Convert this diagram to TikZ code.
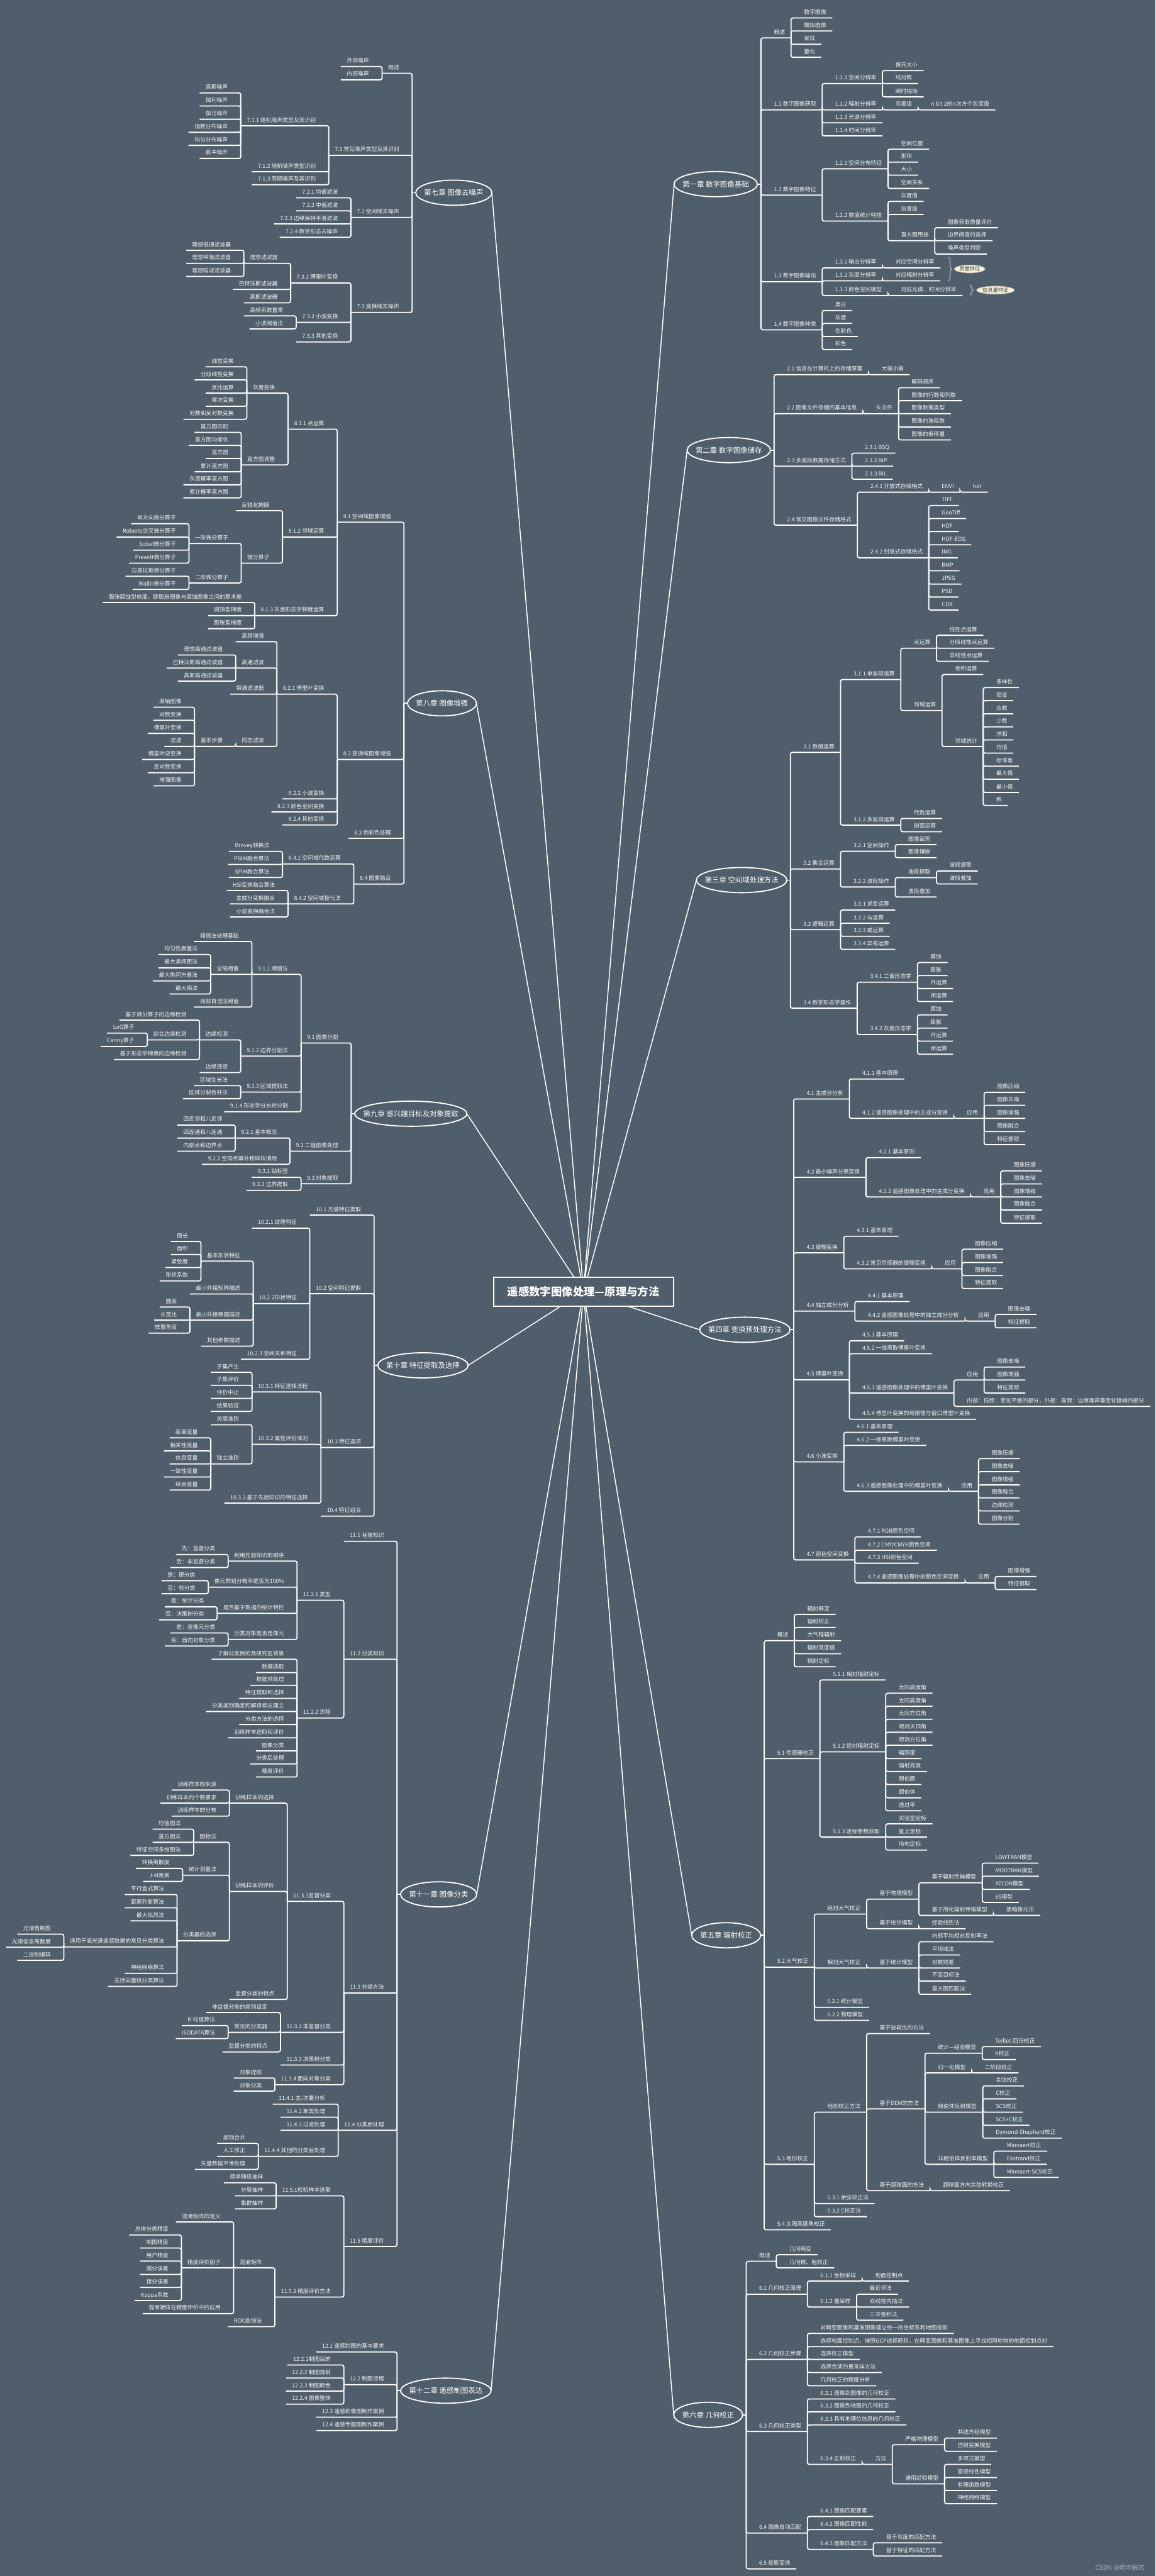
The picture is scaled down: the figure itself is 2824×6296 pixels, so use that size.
\documentclass[tikz,border=0pt]{standalone}
\usepackage{fontspec}
\setmainfont{Noto Sans CJK SC}
\usetikzlibrary{calc,positioning,shapes.geometric,decorations.pathreplacing}

\definecolor{bgc}{HTML}{4F5E6A}
\definecolor{leafc}{HTML}{F3F3F3}
\definecolor{bracec}{HTML}{A7ADB2}
\definecolor{creamc}{HTML}{F5F1DA}
\definecolor{markc}{HTML}{A9B0B6}

\newcommand{\leaffont}{\fontsize{3.85}{4.6}\selectfont}
\newcommand{\chapfont}{\fontsize{5}{6}\selectfont}
% topic growing to the right / to the left of its parent
\newcommand{\rnd}[4]{\node[rbox] (#1) at (#2.south east |- 0,#3) {#4};
  \draw[link] (#2.south east) |- (#1.south east);}
\newcommand{\lnd}[4]{\node[lbox] (#1) at (#2.south west |- 0,#3) {#4};
  \draw[link] (#2.south west) |- (#1.south west);}

\tikzset{
  topic/.style={font=\leaffont, text=leafc, inner xsep=4pt, inner ysep=1.6pt,
    text height=3.1pt, text depth=0.8pt},
  rbox/.style={topic, anchor=south west, xshift=0.17cm},
  lbox/.style={topic, anchor=south east, xshift=-0.17cm},
  link/.style={draw=white, line width=0.78pt, rounded corners=1.3pt},
  chap/.style={font=\chapfont, text=white, inner xsep=0.2cm, inner ysep=0pt, minimum height=0.6cm},
  ring/.style={draw=white, line width=0.8pt},
  spoke/.style={draw=white, line width=0.65pt},
  hub/.style={inner sep=0pt, minimum size=0pt},
  rootbox/.style={draw=white, line width=0.9pt, fill=bgc, text=white, minimum width=4.39cm,
    minimum height=0.71cm, font=\fontsize{7.6}{9}\selectfont\bfseries},
  bubble/.style={ellipse, fill=creamc, draw=creamc!75!black, line width=0.3pt, text=black!75,
    inner sep=0.3pt, font=\fontsize{3.6}{4}\selectfont},
  brc/.style={draw=bracec, line width=0.6pt, decorate, decoration={brace, amplitude=0.08cm}},
  rcrop/.style={shift={(0,#1+13.5)}, y=-0.00676cm},
  scrop/.style={shift={(0,#1+13.5)}, y=-0.00699cm},
  lcrop/.style={shift={(0,#1+13.4)}, y=-0.006378cm}
}

\begin{document}
\begin{tikzpicture}[x=0.01cm, y=-0.01cm]
\fill[bgc] (0,0) rectangle (2824,6296);
\useasboundingbox (0,0) rectangle (2824,6296);

% chapters round the title
\coordinate (o) at (1426,3157);
\node[chap, anchor=east] (ch1) at (1851,450) {第一章 数字图像基础};
\node[chap, anchor=east] (ch2) at (1883,1100) {第二章 数字图像储存};
\node[chap, anchor=east] (ch3) at (1923,2151) {第三章 空间域处理方法};
\node[chap, anchor=east] (ch4) at (1931,3250) {第四章 变换预处理方法};
\node[chap, anchor=east] (ch5) at (1859,4730) {第五章 辐射校正};
\node[chap, anchor=east] (ch6) at (1815,5902) {第六章 几何校正};
\node[chap, anchor=west] (ch7) at (1016,471) {第七章 图像去噪声};
\node[chap, anchor=west] (ch8) at (996,1719) {第八章 图像增强};
\node[chap, anchor=west] (ch9) at (867,2722) {第九章 感兴趣目标及对象提取};
\node[chap, anchor=west] (ch10) at (923,3337) {第十章 特征提取及选择};
\node[chap, anchor=west] (ch11) at (979,4630) {第十一章 图像分类};
\node[chap, anchor=west] (ch12) at (979,5843) {第十二章 遥感制图表达};
\foreach \c in {1,...,12}
  \draw[ring] let \p1=(ch\c.north east), \p2=(ch\c.south west) in
    (ch\c.center) ellipse [x radius={0.5*(\x1-\x2)}, y radius={0.5*(\y1-\y2)}];
\foreach \c in {1,...,6} \draw[spoke] (o) -- (ch\c.west);
\foreach \c in {7,...,12} \draw[spoke] (o) -- (ch\c.east);
\node[rootbox] (root) at (o) {遥感数字图像处理—原理与方法};
\foreach \c in {1,...,6}{
  \node[hub] (hub\c) at ([xshift=0.08cm]ch\c.east) {};
  \draw[link] (ch\c.east) -- (hub\c);}
\foreach \c in {7,...,12}{
  \node[hub] (hub\c) at ([xshift=-0.08cm]ch\c.west) {};
  \draw[link] (ch\c.west) -- (hub\c);}

% ---------------- chapter 1
\begin{scope}[rcrop=0]
\rnd{t1o}{hub1}{117}{概述}
\rnd{t1oa}{t1o}{45}{数字图像}
\rnd{t1ob}{t1o}{92}{模拟图像}
\rnd{t1oc}{t1o}{140}{采样}
\rnd{t1od}{t1o}{187}{量化}
\rnd{t11}{hub1}{377}{1.1 数字图像获取}
\rnd{t111}{t11}{282}{1.1.1 空间分辨率}
\rnd{t111a}{t111}{235}{像元大小}
\rnd{t111b}{t111}{282}{线对数}
\rnd{t111c}{t111}{330}{瞬时视场}
\rnd{t112}{t11}{377}{1.1.2 辐射分辨率}
\rnd{t112a}{t112}{377}{灰度级}
\rnd{t112b}{t112a}{377}{n bit 2的n次方个灰度级}
\rnd{t113}{t11}{424}{1.1.3 光谱分辨率}
\rnd{t114}{t11}{471}{1.1.4 时间分辨率}
\rnd{t12}{hub1}{685}{1.2 数字图像特征}
\rnd{t121}{t12}{590}{1.2.1 空间分布特征}
\rnd{t121a}{t121}{519}{空间位置}
\rnd{t121b}{t121}{566}{形状}
\rnd{t121c}{t121}{613}{大小}
\rnd{t121d}{t121}{661}{空间关系}
\rnd{t122}{t12}{779}{1.2.2 数值统计特性}
\rnd{t122a}{t122}{708}{灰度值}
\rnd{t122b}{t122}{755}{灰度级}
\rnd{t122c}{t122}{850}{直方图用途}
\rnd{t122c1}{t122c}{803}{图像获取质量评价}
\rnd{t122c2}{t122c}{850}{边界阈值的选择}
\rnd{t122c3}{t122c}{898}{噪声类型判断}
\rnd{t13}{hub1}{998}{1.3 数字图像输出}
\rnd{t131}{t13}{948}{1.3.1 输出分辨率}
\rnd{t131a}{t131}{948}{对应空间分辨率}
\rnd{t132}{t13}{995}{1.3.2 灰度分辨率}
\rnd{t132a}{t132}{995}{对应辐射分辨率}
\rnd{t133}{t13}{1048}{1.3.3 颜色空间模型}
\rnd{t133a}{t133}{1048}{对应光谱、时间分辨率}
\rnd{t14}{hub1}{1172}{1.4 数字图像种类}
\rnd{t14a}{t14}{1102}{黑白}
\rnd{t14b}{t14}{1149}{灰度}
\rnd{t14c}{t14}{1196}{伪彩色}
\rnd{t14d}{t14}{1243}{彩色}
% chapter 2, upper part
\rnd{t21}{hub2}{1334}{2.1 信息在计算机上的存储原理}
\rnd{t21a}{t21}{1334}{大端小端}
\rnd{t22}{hub2}{1475}{2.2 图像文件存储的基本信息}
\rnd{t22a}{t22}{1475}{头文件}
\rnd{t22a1}{t22a}{1381}{解码顺序}
\rnd{t22a2}{t22a}{1428}{图像的行数和列数}
\rnd{t22a3}{t22a}{1475}{图像数据类型}
\rnd{t22a4}{t22a}{1523}{图像的波段数}
\rnd{t22a5}{t22a}{1570}{图像的偏移量}
\end{scope}
% quality / information callouts
\draw[brc] ([xshift=0.2cm]t131a.north east) -- ([xshift=0.2cm]t132a.south east);
\coordinate (qb) at ($([xshift=0.28cm]t131a.north east)!0.5!([xshift=0.28cm]t132a.south east)$);
\node[bubble, right=0.06cm of qb] (qual) {质量特征};
\draw[brc] ([xshift=0.18cm]t133a.north east) -- ([xshift=0.18cm]t133a.south east);
\coordinate (ib) at ($([xshift=0.26cm]t133a.north east)!0.5!([xshift=0.26cm]t133a.south east)$);
\node[bubble, right=0.08cm of ib] (info) {信息量特征};

% ---------------- chapter 2 / 3
\begin{scope}[rcrop=1040]
\rnd{t23}{hub2}{127}{2.3 多波段数据存储方式}
\rnd{t231}{t23}{80}{2.3.1 BSQ}
\rnd{t232}{t23}{127}{2.3.2 BIP}
\rnd{t233}{t23}{174}{2.3.3 BIL}
\rnd{t24}{hub2}{340}{2.4 常见图像文件存储格式}
\rnd{t241}{t24}{221}{2.4.1 开放式存储格式}
\rnd{t241a}{t241}{221}{ENVI}
\rnd{t241b}{t241a}{221}{hdr}
\rnd{t242}{t24}{458}{2.4.2 封装式存储格式}
\foreach \y/\s [count=\i] in {269/TIFF,316/GeoTiff,363/HDF,411/HDF-EOS,458/IMG,505/BMP,553/JPEG,600/PSD,647/CDR}{\rnd{t242\i}{t242}{\y}{\s}}
\rnd{t31}{hub3}{1161}{3.1 数值运算}
\rnd{t311}{t31}{898}{3.1.1 单波段运算}
\rnd{t311a}{t311}{785}{点运算}
\rnd{t311a1}{t311a}{738}{线性点运算}
\rnd{t311a2}{t311a}{785}{分段线性点运算}
\rnd{t311a3}{t311a}{832}{非线性点运算}
\rnd{t311b}{t311}{1010}{邻域运算}
\rnd{t311b1}{t311b}{880}{卷积运算}
\rnd{t311b2}{t311b}{1140}{邻域统计}
\foreach \y/\s [count=\i] in {927/多样性,974/密度,1022/众数,1069/少数,1116/求和,1164/均值,1211/标准差,1258/最大值,1306/最小值,1353/秩}{\rnd{t311c\i}{t311b2}{\y}{\s}}
\rnd{t312}{t31}{1424}{3.1.2 多波段运算}
\rnd{t312a}{t312}{1400}{代数运算}
\rnd{t312b}{t312}{1448}{剖面运算}
\end{scope}

\begin{scope}[rcrop=2080]
\rnd{t32}{hub3}{45}{3.2 集合运算}
\rnd{t321}{t32}{-19}{3.2.1 空间操作}
\rnd{t321a}{t321}{-43}{图像裁剪}
\rnd{t321b}{t321}{4}{图像镶嵌}
\rnd{t322}{t32}{110}{3.2.2 波段操作}
\rnd{t322a}{t322}{76}{波段提取}
\rnd{t322a1}{t322a}{52}{波段提取}
\rnd{t322a2}{t322a}{99}{波段叠加}
\rnd{t322b}{t322}{146}{波段叠加}
\rnd{t33}{hub3}{264}{3.3 逻辑运算}
\rnd{t331}{t33}{193}{3.3.1 求反运算}
\rnd{t332}{t33}{241}{3.3.2 与运算}
\rnd{t333}{t33}{288}{3.3.3 或运算}
\rnd{t334}{t33}{335}{3.3.4 异或运算}
\rnd{t34}{hub3}{548}{3.4 数学形态学操作}
\rnd{t341}{t34}{454}{3.4.1 二值形态学}
\foreach \y/\s [count=\i] in {383/腐蚀,430/膨胀,477/开运算,524/闭运算}{\rnd{t341\i}{t341}{\y}{\s}}
\rnd{t342}{t34}{643}{3.4.2 灰度形态学}
\foreach \y/\s [count=\i] in {572/腐蚀,620/膨胀,667/开运算,714/闭运算}{\rnd{t342\i}{t342}{\y}{\s}}
% chapter 4
\rnd{t41}{hub4}{876}{4.1 主成分分析}
\rnd{t411}{t41}{804}{4.1.1 基本原理}
\rnd{t412}{t41}{946}{4.1.2 遥感图像处理中的主成分变换}
\rnd{t412a}{t412}{946}{应用}
\foreach \y/\s [count=\i] in {852/图像压缩,899/图像去噪,946/图像增强,994/图像融合,1041/特征提取}{\rnd{t412a\i}{t412a}{\y}{\s}}
\rnd{t42}{hub4}{1159}{4.2 最小噪声分离变换}
\rnd{t421}{t42}{1088}{4.2.1 基本原则}
\rnd{t422}{t42}{1230}{4.2.2 遥感图像处理中的主成分变换}
\rnd{t422a}{t422}{1230}{应用}
\foreach \y/\s [count=\i] in {1136/图像压缩,1183/图像去噪,1230/图像增强,1277/图像融合,1325/特征提取}{\rnd{t422a\i}{t422a}{\y}{\s}}
\rnd{t43}{hub4}{1432}{4.3 缨帽变换}
\rnd{t431}{t43}{1372}{4.3.1 基本原理}
\rnd{t432}{t43}{1490}{4.3.2 常见传感器的缨帽变换}
\rnd{t432a}{t432}{1490}{应用}
\foreach \y/\s [count=\i] in {1419/图像压缩,1467/图像增强,1514/图像融合,1561/特征提取}{\rnd{t432a\i}{t432a}{\y}{\s}}
\end{scope}

\begin{scope}[rcrop=3120]
\rnd{t44}{hub4}{105}{4.4 独立成分分析}
\rnd{t441}{t44}{70}{4.4.1 基本原理}
\rnd{t442}{t44}{141}{4.4.2 遥感图像处理中的独立成分分析}
\rnd{t442a}{t442}{141}{应用}
\rnd{t442a1}{t442a}{117}{图像去噪}
\rnd{t442a2}{t442a}{165}{特征提取}
\rnd{t45}{hub4}{353}{4.5 傅里叶变换}
\rnd{t451}{t45}{212}{4.5.1 基本原理}
\rnd{t452}{t45}{259}{4.5.2 一维离散傅里叶变换}
\rnd{t453}{t45}{401}{4.5.3 遥感图像处理中的傅里叶变换}
\rnd{t453a}{t453}{354}{应用}
\rnd{t453a1}{t453a}{307}{图像去噪}
\rnd{t453a2}{t453a}{354}{图像增强}
\rnd{t453a3}{t453a}{401}{特征提取}
\rnd{t453b}{t453}{449}{内部：低频：变化平缓的部分，外部：高频：边缘噪声等变化陡峭的部分}
\rnd{t454}{t45}{496}{4.5.4 傅里叶变换的局限性与窗口傅里叶变换}
\rnd{t46}{hub4}{650}{4.6 小波变换}
\rnd{t461}{t46}{543}{4.6.1 基本原理}
\rnd{t462}{t46}{590}{4.6.2 一维离散傅里叶变换}
\rnd{t463}{t46}{756}{4.6.3 遥感图像处理中的傅里叶变换}
\rnd{t463a}{t463}{756}{应用}
\foreach \y/\s [count=\i] in {638/图像压缩,685/图像去噪,733/图像增强,780/图像融合,827/边缘检测,875/图像分割}{\rnd{t463a\i}{t463a}{\y}{\s}}
\rnd{t47}{hub4}{1004}{4.7 颜色空间变换}
\rnd{t471}{t47}{921}{4.7.1 RGB颜色空间}
\rnd{t472}{t47}{969}{4.7.2 CMY/CMYK颜色空间}
\rnd{t473}{t47}{1016}{4.7.3 HSI颜色空间}
\rnd{t474}{t47}{1087}{4.7.4 遥感图像处理中的颜色空间变换}
\rnd{t474a}{t474}{1087}{应用}
\rnd{t474a1}{t474a}{1064}{图像增强}
\rnd{t474a2}{t474a}{1111}{特征提取}
% chapter 5
\rnd{t5o}{hub5}{1296}{概述}
\foreach \y/\s [count=\i] in {1201/辐射畸变,1248/辐射校正,1296/大气程辐射,1343/辐射亮度值,1390/辐射定标}{\rnd{t5o\i}{t5o}{\y}{\s}}
\end{scope}

\begin{scope}[rcrop=4160]
\rnd{t51}{hub5}{184}{5.1 传感器校正}
\rnd{t511}{t51}{-100}{5.1.1 相对辐射定标}
\rnd{t512}{t51}{160}{5.1.2 绝对辐射定标}
\foreach \y/\s [count=\i] in {-52/太阳高度角,-5/太阳高度角,42/太阳方位角,89/观测天顶角,136/观测方位角,184/辐照度,231/辐射亮度,278/朗伯面,326/朗伯体,373/透过率}{\rnd{t512\i}{t512}{\y}{\s}}
\rnd{t513}{t51}{468}{5.1.3 定标参数获取}
\foreach \y/\s [count=\i] in {420/实验室定标,468/星上定标,515/场地定标}{\rnd{t513\i}{t513}{\y}{\s}}
\rnd{t52}{hub5}{938}{5.2 大气校正}
\rnd{t52a}{t52}{746}{绝对大气校正}
\rnd{t52a1}{t52a}{692}{基于物理模型}
\rnd{t52a1a}{t52a1}{633}{基于辐射传输模型}
\foreach \y/\s [count=\i] in {562/LOWTRAN模型,609/MODTRAN模型,657/ATCOR模型,704/6S模型}{\rnd{t52a1a\i}{t52a1a}{\y}{\s}}
\rnd{t52a1b}{t52a1}{751}{基于简化辐射传输模型}
\rnd{t52a1b1}{t52a1b}{751}{黑暗像元法}
\rnd{t52a2}{t52a}{799}{基于统计模型}
\rnd{t52a2a}{t52a2}{799}{经验线性法}
\rnd{t52b}{t52}{941}{相对大气校正}
\rnd{t52b1}{t52b}{941}{基于统计模型}
\foreach \y/\s [count=\i] in {846/内部平均相对反射率法,894/平场域法,941/对数残差,988/不变目标法,1036/直方图匹配法}{\rnd{t52b1\i}{t52b1}{\y}{\s}}
\rnd{t521}{t52}{1083}{5.2.1 统计模型}
\rnd{t522}{t52}{1130}{5.2.2 物理模型}
\end{scope}

\begin{scope}[scrop=5200]
\rnd{t53}{hub5}{109}{5.3 地形校正}
\end{scope}

\begin{scope}[rcrop=4160]
\rnd{t53a}{t53}{1462}{地形校正方法}
\rnd{t53a1}{t53a}{1178}{基于波段比的方法}
\rnd{t53a2}{t53a}{1450}{基于DEM的方法}
\rnd{t53b1}{t53a2}{1249}{统计—经验模型}
\rnd{t53b1a}{t53b1}{1225}{Teillet-回归校正}
\rnd{t53b1b}{t53b1}{1272}{b校正}
\rnd{t53b2}{t53a2}{1320}{归一化模型}
\rnd{t53b2a}{t53b2}{1320}{二阶段校正}
\rnd{t53b3}{t53a2}{1462}{朗伯体反射模型}
\foreach \y/\s [count=\i] in {1367/余弦校正,1414/C校正,1462/SCS校正,1509/SCS+C校正,1556/Dymond-Shepherd校正}{\rnd{t53b3\i}{t53b3}{\y}{\s}}
\end{scope}

\begin{scope}[scrop=5200]
\rnd{t53b4}{t53a2}{109}{非朗伯体反射率模型}
\foreach \y/\s [count=\i] in {63/Minnaert校正,109/Ekstrand校正,155/Minnaert-SCS校正}{\rnd{t53b4\i}{t53b4}{\y}{\s}}
\rnd{t53a3}{t53a}{201}{基于超球面的方法}
\rnd{t53a3a}{t53a3}{201}{超球面方向余弦转换校正}
\rnd{t531}{t53}{246}{5.3.1 余弦校正法}
\rnd{t532}{t53}{292}{5.3.2 C校正法}
\rnd{t54}{hub5}{338}{5.4 太阳高度角校正}
% chapter 6
\rnd{t6o}{hub6}{448}{概述}
\rnd{t6oa}{t6o}{425}{几何畸变}
\rnd{t6ob}{t6o}{471}{几何精、粗校正}
\rnd{t61}{hub6}{563}{6.1 几何校正原理}
\rnd{t611}{t61}{517}{6.1.1 坐标采样}
\rnd{t611a}{t611}{517}{地面控制点}
\rnd{t612}{t61}{608}{6.1.2 重采样}
\foreach \y/\s [count=\i] in {563/最近邻法,608/双线性内插法,654/三次卷积法}{\rnd{t612\i}{t612}{\y}{\s}}
\rnd{t62}{hub6}{791}{6.2 几何校正步骤}
\rnd{t62a}{t62}{700}{对畸变图像和基准图像建立统一的坐标系和地图投影}
\rnd{t62b}{t62}{746}{选择地面控制点，按照GCP选择原则，在畸变图像和基准图像上寻找相同地物的地面控制点对}
\rnd{t62c}{t62}{791}{选择校正模型}
\rnd{t62d}{t62}{837}{选择合适的重采样方法}
\rnd{t62e}{t62}{883}{几何校正的精度分析}
\rnd{t63}{hub6}{1043}{6.3 几何校正类型}
\rnd{t631}{t63}{929}{6.3.1 图像到图像的几何校正}
\rnd{t632}{t63}{974}{6.3.2 图像到地图的几何校正}
\rnd{t633}{t63}{1020}{6.3.3 具有地理位信息的几何校正}
\rnd{t634}{t63}{1158}{6.3.4 正射校正}
\rnd{t634a}{t634}{1158}{方法}
\rnd{t634b}{t634a}{1089}{严格物理模型}
\rnd{t634b1}{t634b}{1066}{共线方程模型}
\rnd{t634b2}{t634b}{1112}{仿射变换模型}
\rnd{t634c}{t634a}{1226}{通用经验模型}
\foreach \y/\s [count=\i] in {1158/多项式模型,1204/直接线性模型,1249/有理函数模型,1295/神经网络模型}{\rnd{t634c\i}{t634c}{\y}{\s}}
\rnd{t64}{hub6}{1398}{6.4 图像自动匹配}
\rnd{t641}{t64}{1340}{6.4.1 图像匹配要素}
\rnd{t642}{t64}{1386}{6.4.2 图像匹配性能}
\rnd{t643}{t64}{1455}{6.4.3 图象匹配方法}
\rnd{t643a}{t643}{1432}{基于灰度的匹配方法}
\rnd{t643b}{t643}{1478}{基于特征的匹配方法}
\rnd{t65}{hub6}{1523}{6.5 投影变换}
\end{scope}

% ---------------- chapter 7
\begin{scope}[lcrop=100]
\lnd{t7o}{hub7}{103}{概述}
\lnd{t7oa}{t7o}{77}{外部噪声}
\lnd{t7ob}{t7o}{128}{内部噪声}
\lnd{t71}{hub7}{417}{7.1 常见噪声类型及其识别}
\lnd{t711}{t71}{304}{7.1.1 随机噪声类型及其识别}
\foreach \y/\s [count=\i] in {178/高斯噪声,228/瑞利噪声,279/伽马噪声,329/指数分布噪声,379/均匀分布噪声,429/脉冲噪声}{\lnd{t711\i}{t711}{\y}{\s}}
\lnd{t712}{t71}{480}{7.1.2 随机噪声类型识别}
\lnd{t713}{t71}{530}{7.1.3 周期噪声及其识别}
\lnd{t72}{hub7}{655}{7.2 空间域去噪声}
\lnd{t721}{t72}{580}{7.2.1 均值滤波}
\lnd{t722}{t72}{630}{7.2.2 中值滤波}
\lnd{t723}{t72}{680}{7.2.3 边缘保持平滑滤波}
\lnd{t724}{t72}{731}{7.2.4 数学形态去噪声}
\lnd{t73}{hub7}{1019}{7.3 变换域去噪声}
\lnd{t731}{t73}{906}{7.3.1 傅里叶变换}
\lnd{t731a}{t731}{831}{理想滤波器}
\lnd{t731a1}{t731a}{781}{理想低通滤波器}
\lnd{t731a2}{t731a}{831}{理想带阻滤波器}
\lnd{t731a3}{t731a}{881}{理想陷波滤波器}
\lnd{t731b}{t731}{931}{巴特沃斯滤波器}
\lnd{t731c}{t731}{982}{高斯滤波器}
\lnd{t732}{t73}{1057}{7.3.2 小波变换}
\lnd{t732a}{t732}{1032}{高频系数置零}
\lnd{t732b}{t732}{1082}{小波阈值法}
\lnd{t733}{t73}{1132}{7.3.3 其他变换}
\end{scope}

% ---------------- chapter 8
\begin{scope}[lcrop=1100]
\lnd{t81}{hub8}{255}{8.1 空间域图像增强}
\end{scope}
\begin{scope}[lcrop=100]
\lnd{t811}{t81}{1466}{8.1.1 点运算}
\lnd{t811a}{t811}{1328}{灰度变换}
\foreach \y/\s [count=\i] in {1227/线性变换,1277/分段线性变换,1328/反比运算,1378/幂次变换,1428/对数和反对数变换}{\lnd{t811a\i}{t811a}{\y}{\s}}
\lnd{t811b}{t811}{1603}{直方图调整}
\foreach \y/\s [count=\i] in {1478/直方图匹配,1528/直方图均衡化,1578/直方图,1629/累计直方图,1679/灰度概率直方图,1729/累计概率直方图}{\lnd{t811b\i}{t811b}{\y}{\s}}
\end{scope}
\begin{scope}[lcrop=1100]
\lnd{t812}{t81}{312}{8.1.2 邻域运算}
\lnd{t812a}{t812}{211}{反锐化掩膜}
\lnd{t812b}{t812}{412}{微分算子}
\lnd{t812b1}{t812b}{337}{一阶微分算子}
\foreach \y/\s [count=\i] in {261/单方向微分算子,312/Roberts交叉微分算子,362/Sobel微分算子,412/Prewitt微分算子}{\lnd{t812c\i}{t812b1}{\y}{\s}}
\lnd{t812b2}{t812b}{488}{二阶微分算子}
\lnd{t812d1}{t812b2}{462}{拉普拉斯微分算子}
\lnd{t812d2}{t812b2}{513}{Wallis微分算子}
\lnd{t813}{t81}{613}{8.1.3 灰度形态学梯度运算}
\lnd{t813a}{t813}{563}{膨胀腐蚀型梯度，即膨胀图像与腐蚀图像之间的算术差}
\lnd{t813b}{t813}{613}{腐蚀型梯度}
\lnd{t813c}{t813}{663}{膨胀型梯度}
\lnd{t82}{hub8}{1164}{8.2 变换域图像增强}
\lnd{t821}{t82}{914}{8.2.1 傅里叶变换}
\lnd{t821a}{t821}{713}{高频增强}
\lnd{t821b}{t821}{814}{高通滤波}
\lnd{t821b1}{t821b}{764}{理想高通滤波器}
\lnd{t821b2}{t821b}{814}{巴特沃斯高通滤波器}
\lnd{t821b3}{t821b}{864}{高斯高通滤波器}
\lnd{t821c}{t821}{914}{带通滤波器}
\lnd{t821d}{t821}{1114}{同态滤波}
\lnd{t821e}{t821d}{1114}{基本步骤}
\foreach \y/\s [count=\i] in {964/原始图像,1014/对数变换,1064/傅里叶变换,1114/滤波,1164/傅里叶逆变换,1215/反对数变换,1265/增强图像}{\lnd{t821e\i}{t821e}{\y}{\s}}
\lnd{t822}{t82}{1315}{8.2.2 小波变换}
\lnd{t823}{t82}{1365}{8.2.3 颜色空间变换}
\lnd{t824}{t82}{1415}{8.2.4 其他变换}
\lnd{t83}{hub8}{1466}{8.3 伪彩色处理}
\lnd{t84}{hub8}{1641}{8.4 图像融合}
\lnd{t841}{t84}{1564}{8.4.1 空间域代数运算}
\lnd{t841a}{t841}{1516}{Brovey转换法}
\lnd{t841b}{t841}{1566}{PBIM融合算法}
\lnd{t841c}{t841}{1616}{SFIM融合算法}
\lnd{t842}{t84}{1717}{8.4.2 空间域替代法}
\lnd{t842a}{t842}{1666}{HSI变换融合算法}
\lnd{t842b}{t842}{1717}{主成分变换融合}
\lnd{t842c}{t842}{1767}{小波变换融合法}
\end{scope}

% ---------------- chapter 9
\begin{scope}[lcrop=2100]
\lnd{t91}{hub9}{683}{9.1 图像分割}
\lnd{t911}{t91}{420}{9.1.1 阈值法}
\lnd{t911a}{t911}{294}{阈值法处理基础}
\lnd{t911b}{t911}{420}{全局阈值}
\foreach \y/\s [count=\i] in {344/均匀性度量法,395/最大类间距法,445/最大类间方差法,495/最大熵法}{\lnd{t911b\i}{t911b}{\y}{\s}}
\lnd{t911c}{t911}{545}{局部自适应阈值}
\lnd{t912}{t91}{733}{9.1.2 边界分割法}
\lnd{t912a}{t912}{671}{边缘检测}
\lnd{t912a1}{t912a}{595}{基于微分算子的边缘检测}
\lnd{t912a2}{t912a}{671}{综合边缘检测}
\lnd{t912a2a}{t912a2}{645}{LoG算子}
\lnd{t912a2b}{t912a2}{696}{Canny算子}
\lnd{t912a3}{t912a}{746}{基于形态学梯度的边缘检测}
\lnd{t912b}{t912}{796}{边缘连接}
\lnd{t913}{t91}{871}{9.1.3 区域提取法}
\lnd{t913a}{t913}{846}{区域生长法}
\lnd{t913b}{t913}{896}{区域分裂合并法}
\lnd{t914}{t91}{946}{9.1.4 形态学分水岭分割}
\lnd{t92}{hub9}{1097}{9.2 二值图像处理}
\lnd{t921}{t92}{1047}{9.2.1 基本概念}
\lnd{t921a}{t921}{997}{四近邻和八近邻}
\lnd{t921b}{t921}{1047}{四连通和八连通}
\lnd{t921c}{t921}{1097}{内部点和边界点}
\lnd{t922}{t92}{1147}{9.2.2 空洞点填补和碎块消除}
\lnd{t93}{hub9}{1222}{9.3 对象提取}
\lnd{t931}{t93}{1197}{9.3.1 贴标签}
\lnd{t932}{t93}{1247}{9.3.2 边界提取}
\end{scope}

% ---------------- chapter 10 / 11
\begin{scope}[lcrop=3100]
\lnd{u1}{hub10}{-225}{10.1 光谱特征提取}
\lnd{u2}{hub10}{76}{10.2 空间特征提取}
\lnd{u21}{u2}{-175}{10.2.1 纹理特征}
\lnd{u22}{u2}{114}{10.2.2形状特征}
\lnd{u22a}{u22}{-49}{基本形状特征}
\foreach \y/\s [count=\i] in {-124/周长,-74/面积,-24/紧致度,27/形状系数}{\lnd{u22a\i}{u22a}{\y}{\s}}
\lnd{u22b}{u22}{77}{最小外接矩阵描述}
\lnd{u22c}{u22}{177}{最小外接椭圆描述}
\foreach \y/\s [count=\i] in {127/圆度,177/长宽比,227/放置角度}{\lnd{u22c\i}{u22c}{\y}{\s}}
\lnd{u22d}{u22}{277}{其他参数描述}
\lnd{u23}{u2}{327}{10.2.3 空间关系特征}
\lnd{u3}{hub10}{665}{10.3 特征选项}
\lnd{u31}{u3}{452}{10.3.1 特征选择流程}
\foreach \y/\s [count=\i] in {377/子集产生,427/子集评价,477/评价中止,527/结果验证}{\lnd{u31\i}{u31}{\y}{\s}}
\lnd{u32}{u3}{653}{10.3.2 属性评价准则}
\lnd{u32a}{u32}{578}{关联准则}
\lnd{u32b}{u32}{728}{独立准则}
\foreach \y/\s [count=\i] in {628/距离度量,678/相关性度量,728/信息度量,778/一致性度量,828/综合度量}{\lnd{u32b\i}{u32b}{\y}{\s}}
\lnd{u33}{u3}{878}{10.3.3 基于先验知识的特征选择}
\lnd{u4}{hub10}{928}{10.4 特征组合}
% chapter 11
\lnd{v1}{hub11}{1024}{11.1 背景知识}
\lnd{v2}{hub11}{1476}{11.2 分类知识}
\lnd{v21}{v2}{1250}{11.2.1 类型}
\lnd{v21a}{v21}{1100}{利用先验知识的顺序}
\lnd{v21a1}{v21a}{1075}{先：监督分类}
\lnd{v21a2}{v21a}{1125}{后：非监督分类}
\lnd{v21b}{v21}{1200}{像元的划分概率是否为100\%}
\lnd{v21b1}{v21b}{1175}{是：硬分类}
\lnd{v21b2}{v21b}{1225}{否：软分类}
\lnd{v21c}{v21}{1300}{是否基于数据的统计特性}
\lnd{v21c1}{v21c}{1275}{是：统计分类}
\lnd{v21c2}{v21c}{1325}{否：决策树分类}
\lnd{v21d}{v21}{1400}{分类对象是否是像元}
\lnd{v21d1}{v21d}{1375}{是：逐像元分类}
\lnd{v21d2}{v21d}{1425}{否：面向对象分类}
\lnd{v22}{v2}{1701}{11.2.2 流程}
\foreach \y/\s [count=\i] in {1476/了解分类目的及研究区背景,1527/数据选取,1576/数据预处理,1626/特征提取和选择,1676/分类类别确定和解译标志建立,1726/分类方法的选择,1777/训练样本选取和评价,1827/图像分类,1877/分类后处理,1927/精度评价}{\lnd{v22\i}{v22}{\y}{\s}}
\end{scope}

\begin{scope}[lcrop=4100]
\lnd{v3}{hub11}{1187}{11.3 分类方法}
\lnd{v31}{v3}{836}{11.3.1监督分类}
\lnd{v31a}{v31}{460}{训练样本的选择}
\lnd{v31a1}{v31a}{410}{训练样本的来源}
\lnd{v31a2}{v31a}{460}{训练样本的个数要求}
\lnd{v31a3}{v31a}{510}{训练样本的分布}
\lnd{v31b}{v31}{798}{训练样本的评价}
\lnd{v31b1}{v31b}{610}{图标法}
\lnd{v31b1a}{v31b1}{560}{均值图法}
\lnd{v31b1b}{v31b1}{610}{直方图法}
\lnd{v31b1c}{v31b1}{660}{特征空间多维图法}
\lnd{v31b2}{v31b}{736}{统计测量法}
\lnd{v31b2a}{v31b2}{710}{转换离散度}
\lnd{v31b2b}{v31b2}{760}{J-M距离}
\lnd{v31b3}{v31b}{987}{分类器的选择}
\lnd{v31b3a}{v31b3}{810}{平行盒式算法}
\lnd{v31b3b}{v31b3}{861}{距离判断算法}
\lnd{v31b3c}{v31b3}{911}{最大似然法}
\lnd{v31b3d}{v31b3}{1011}{适用于高光谱遥感数据的常见分类算法}
\lnd{v31b3d1}{v31b3d}{962}{光谱角制图}
\lnd{v31b3d2}{v31b3d}{1012}{光谱信息离散度}
\lnd{v31b3d3}{v31b3d}{1062}{二进制编码}
\lnd{v31b3e}{v31b3}{1112}{神经网络算法}
\lnd{v31b3f}{v31b3}{1162}{支持向量机分类算法}
\lnd{v31c}{v31}{1212}{监督分类的特点}
\lnd{v32}{v3}{1338}{11.3.2 非监督分类}
\lnd{v32a}{v32}{1262}{非监督分类的类别设定}
\lnd{v32b}{v32}{1338}{常见的分类器}
\lnd{v32b1}{v32b}{1312}{K-均值算法}
\lnd{v32b2}{v32b}{1362}{ISODATA算法}
\lnd{v32c}{v32}{1413}{监督分类的特点}
\lnd{v33}{v3}{1463}{11.3.3 决策树分类}
\lnd{v34}{v3}{1538}{11.3.4 面向对象分类}
\lnd{v34a}{v34}{1513}{对象提取}
\lnd{v34b}{v34}{1563}{对象分类}
\end{scope}

\begin{scope}[lcrop=5100]
\lnd{v4}{hub11}{146}{11.4 分类后处理}
\lnd{v41}{v4}{46}{11.4.1 主/次要分析}
\lnd{v42}{v4}{96}{11.4.2 聚类处理}
\lnd{v43}{v4}{146}{11.4.3 过滤处理}
\lnd{v44}{v4}{246}{11.4.4 其他的分类后处理}
\lnd{v44a}{v44}{196}{类别合并}
\lnd{v44b}{v44}{246}{人工修正}
\lnd{v44c}{v44}{296}{矢量数据平滑处理}
\lnd{v5}{hub11}{591}{11.5 精度评价}
\lnd{v51}{v5}{397}{11.5.1检验样本选取}
\lnd{v51a}{v51}{347}{简单随机抽样}
\lnd{v51b}{v51}{397}{分层抽样}
\lnd{v51c}{v51}{447}{集群抽样}
\lnd{v52}{v5}{785}{11.5.2 精度评价方法}
\lnd{v52a}{v52}{673}{混淆矩阵}
\lnd{v52a1}{v52a}{497}{混淆矩阵的定义}
\lnd{v52a2}{v52a}{673}{精度评价因子}
\foreach \y/\s [count=\i] in {547/总体分类精度,597/制图精度,647/用户精度,698/漏分误差,748/错分误差,798/Kappa系数}{\lnd{v52b\i}{v52a2}{\y}{\s}}
\lnd{v52a3}{v52a}{848}{混淆矩阵在精度评价中的应用}
\lnd{v52c}{v52}{898}{ROC曲线法}
% chapter 12
\lnd{w1}{hub12}{995}{12.1 遥感制图的基本要求}
\lnd{w2}{hub12}{1120}{12.2 制图流程}
\lnd{w21}{w2}{1045}{12.2.1制图目的}
\lnd{w22}{w2}{1095}{12.2.2 制图规划}
\lnd{w23}{w2}{1145}{12.2.3 制图颜色}
\lnd{w24}{w2}{1195}{12.2.4 图像整饰}
\lnd{w3}{hub12}{1245}{12.3 遥感影像图制作案例}
\lnd{w4}{hub12}{1296}{12.4 遥感专题图制作案例}
\end{scope}

\node[anchor=east, font=\fontsize{4.4}{5}\selectfont, text=markc] (mark) at (2810,6276) {CSDN @乾坤毅志};
\end{tikzpicture}
\end{document}
